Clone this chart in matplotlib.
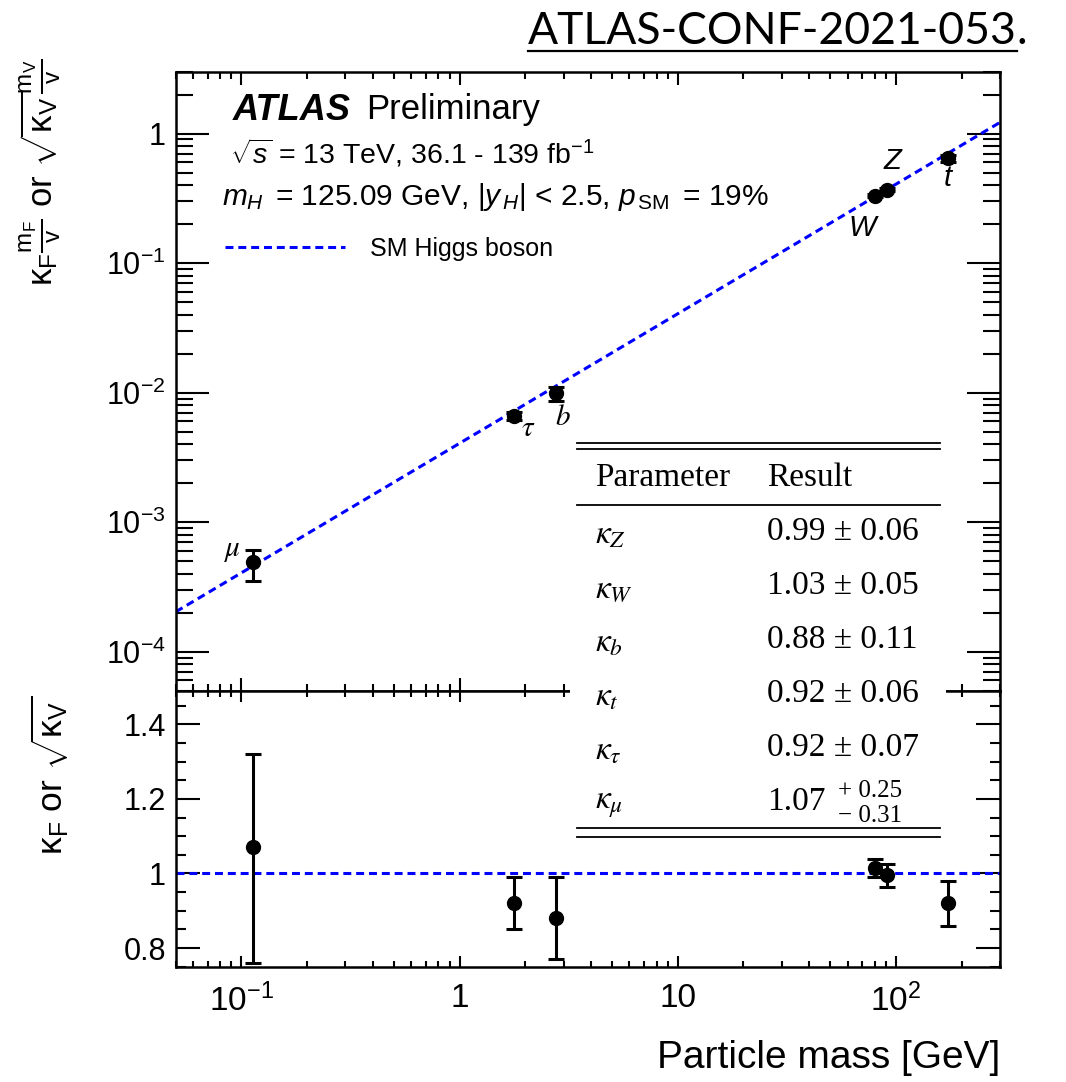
import matplotlib
matplotlib.use("Agg")
import matplotlib.pyplot as plt
import numpy as np
from matplotlib.lines import Line2D
from matplotlib.patches import Rectangle
from matplotlib.ticker import FuncFormatter, LogLocator, MultipleLocator, NullFormatter

plt.rcParams["font.family"] = ["Liberation Sans", "DejaVu Sans"]
plt.rcParams["mathtext.fontset"] = "custom"
plt.rcParams["mathtext.rm"] = "Liberation Sans"
plt.rcParams["mathtext.it"] = "Liberation Sans:italic"
plt.rcParams["mathtext.bf"] = "Liberation Sans:bold"
plt.rcParams["mathtext.sf"] = "Liberation Sans"

# ── Data ──────────────────────────────────────────────────────────────────────

names = ["mu", "tau", "b", "W", "Z", "t"]
tags = [r"$\mu$", r"$\tau$", r"$b$", "W", "Z", "t"]
mass = np.array([0.113, 1.777, 2.76, 80.4, 91.19, 172.5])
kappa = np.array([1.07, 0.92, 0.88, 1.03, 0.99, 0.92])
kappa_up = np.array([0.25, 0.07, 0.11, 0.05, 0.06, 0.06])
kappa_dn = np.array([0.31, 0.07, 0.11, 0.05, 0.06, 0.06])
is_vector = np.array([False, False, False, True, True, False])
vev = 246.22

table_order = ["Z", "W", "b", "t", "tau", "mu"]
table_symbols = [r"$\kappa_Z$", r"$\kappa_W$", r"$\kappa_b$", r"$\kappa_t$",
                 r"$\kappa_\tau$", r"$\kappa_\mu$"]

x_range = (0.05, 300)
y_range_top = (5e-5, 3)
y_range_bot = (0.75, 1.49)

# sqrt(kappa) for vector bosons, kappa for fermions
coup = np.where(is_vector, np.sqrt(kappa), kappa)
coup_up = np.where(is_vector, kappa_up / (2 * np.sqrt(kappa)), kappa_up)
coup_dn = np.where(is_vector, kappa_dn / (2 * np.sqrt(kappa)), kappa_dn)
reduced = coup * mass / vev
reduced_up = coup_up * mass / vev
reduced_dn = coup_dn * mass / vev

# ── Figure ────────────────────────────────────────────────────────────────────

W, H = 1066, 1082
fig = plt.figure(figsize=(W / 100, H / 100), dpi=100)


def fx(px):
    return px / W


def fy(py):
    return 1 - py / H


left, right = 175.7, 1000
ax_top = fig.add_axes([fx(left), fy(690.7), fx(right) - fx(left), fy(71.7) - fy(690.7)])
ax_bot = fig.add_axes([fx(left), fy(966.7), fx(right) - fx(left), fy(690.7) - fy(966.7)])


def pow_label(v, pos):
    e = int(round(np.log10(v)))
    if e == 0:
        return "1"
    if e == 1:
        return "10"
    return r"$10^{%d}$" % e


def style_axes(ax, xlen, ylen):
    for s in ax.spines.values():
        s.set_linewidth(1.8)
    ax.tick_params(which="both", direction="in", top=True, right=True, width=1.5,
                   labelsize=22, pad=7)
    ax.tick_params(axis="x", which="major", length=xlen[0])
    ax.tick_params(axis="x", which="minor", length=xlen[1])
    ax.tick_params(axis="y", which="major", length=ylen[0])
    ax.tick_params(axis="y", which="minor", length=ylen[1])
    ax.set_xscale("log")
    ax.set_xlim(*x_range)
    ax.xaxis.set_major_locator(LogLocator(base=10, numticks=12))
    ax.xaxis.set_minor_locator(LogLocator(base=10, subs=np.arange(2, 10), numticks=12))
    ax.xaxis.set_minor_formatter(NullFormatter())


style_axes(ax_top, (9.5, 5), (24, 12))
style_axes(ax_bot, (8, 4), (17, 7))

# top panel: reduced coupling strength
ax_top.set_yscale("log")
ax_top.set_ylim(*y_range_top)
ax_top.yaxis.set_major_locator(LogLocator(base=10, numticks=12))
ax_top.yaxis.set_minor_locator(LogLocator(base=10, subs=np.arange(2, 10), numticks=12))
ax_top.yaxis.set_major_formatter(FuncFormatter(pow_label))
ax_top.yaxis.set_minor_formatter(NullFormatter())
ax_top.tick_params(axis="x", labelbottom=False)

sm_x = np.array(x_range)
sm_line, = ax_top.plot(sm_x, sm_x / vev, color="blue", lw=2.2, dashes=(2.6, 1.6),
                       label="SM Higgs boson", zorder=2)
ax_top.errorbar(mass, reduced, yerr=[reduced_dn, reduced_up], fmt="o", color="black",
                ms=10, elinewidth=2.2, capsize=6, capthick=2.2, zorder=3)

tag_offsets = {"mu": (-15, 9), "tau": (10, -9), "b": (5, -17),
               "W": (-9, -23), "Z": (4, 21), "t": (0, -14)}
for n, tag, m, r in zip(names, tags, mass, reduced):
    fam = "stix" if tag.startswith("$") else "custom"
    style = "normal" if tag.startswith("$") else "italic"
    ax_top.annotate(tag, (m, r), xytext=tag_offsets[n], textcoords="offset points",
                    ha="center", va="center", fontsize=21, fontstyle=style,
                    math_fontfamily=fam)

ax_top.legend(handles=[sm_line], loc="center left", bbox_to_anchor=(fx(225), fy(249)),
              bbox_transform=fig.transFigure, frameon=False, fontsize=18,
              handlelength=4.8, handletextpad=1.0, borderpad=0, borderaxespad=0)

fig.text(fx(233), fy(110), "ATLAS", fontsize=26, fontweight="bold", fontstyle="italic",
         va="center")
fig.text(fx(366), fy(110), "Preliminary", fontsize=25, va="center")
fig.text(fx(230), fy(153), r"$\sqrt{s}$ = 13 TeV, 36.1 - 139 fb$^{-1}$", fontsize=20.5,
         va="center")
fig.text(fx(222), fy(197),
         r"$m_{H}\,$ = 125.09 GeV, $|y_{\,H}|$ < 2.5, $p_{\,\mathrm{SM}}\,$ = 19%",
         fontsize=21.5, va="center")

# bottom panel: coupling modifiers
ax_bot.set_ylim(*y_range_bot)
ax_bot.yaxis.set_major_locator(MultipleLocator(0.2))
ax_bot.yaxis.set_minor_locator(MultipleLocator(0.05))
ax_bot.yaxis.set_major_formatter(FuncFormatter(lambda v, p: "%g" % round(v, 2)))
ax_bot.xaxis.set_major_formatter(FuncFormatter(pow_label))
ax_bot.tick_params(axis="x", labelsize=24, pad=12)
ax_bot.axhline(1.0, color="blue", lw=2.2, dashes=(2.6, 1.6), zorder=2)
ax_bot.errorbar(mass, coup, yerr=[coup_dn, coup_up], fmt="o", color="black",
                ms=10, elinewidth=2.2, capsize=6, capthick=2.2, zorder=3)

fig.text(fx(1000), fy(1058), "Particle mass [GeV]", fontsize=28, ha="right", va="center")
fig.text(fx(40), fy(172),
         r"$\mathrm{\kappa_F}\frac{\mathrm{m_F}}{\mathrm{v}}$ or "
         r"$\sqrt{\mathrm{\kappa_V}}\frac{\mathrm{m_V}}{\mathrm{v}}$",
         fontsize=25, rotation=90, ha="center", va="center")
fig.text(fx(50), fy(775), r"$\mathrm{\kappa_F}$ or $\sqrt{\mathrm{\kappa_V}}$",
         fontsize=25.5, rotation=90, ha="center", va="center")

# ── Results table ─────────────────────────────────────────────────────────────

fig.patches.append(Rectangle((fx(570), fy(842)), fx(946) - fx(570), fy(436) - fy(842),
                             transform=fig.transFigure, facecolor="white",
                             edgecolor="none", zorder=4))
for py in [442.7, 449.3, 505, 828, 836.7]:
    fig.lines.append(Line2D([fx(576.7), fx(940)], [fy(py), fy(py)], color="black",
                            lw=1.3, transform=fig.transFigure, zorder=5))

serif = dict(family="Liberation Serif", fontsize=24, va="center", zorder=6)
fig.text(fx(595), fy(478), "Parameter", **serif)
fig.text(fx(767), fy(478), "Result", **serif)
for i, (n, sym) in enumerate(zip(table_order, table_symbols)):
    j = names.index(n)
    py = 532 + 54 * i
    fig.text(fx(595), fy(py + 3), sym, math_fontfamily="stix", **serif)
    if kappa_up[j] == kappa_dn[j]:
        fig.text(fx(767), fy(py), "%.2f ± %.2f" % (kappa[j], kappa_up[j]), **serif)
    else:
        fig.text(fx(767), fy(py), "%.2f" % kappa[j], **serif)
        small = dict(serif, fontsize=18)
        fig.text(fx(838), fy(py - 11), "+ %.2f" % kappa_up[j], **small)
        fig.text(fx(838), fy(py + 14), "− %.2f" % kappa_dn[j], **small)

# ── Reference header ──────────────────────────────────────────────────────────

ref = fig.text(fx(528), fy(32), "ATLAS-CONF-2021-053", family="Lato",
               fontsize=32, va="center")
fig.canvas.draw()
bb = ref.get_window_extent().transformed(fig.transFigure.inverted())
fig.text(bb.x1, fy(32), ".", family="Lato", fontsize=32, va="center")
fig.lines.append(Line2D([bb.x0, bb.x1], [fy(51), fy(51)], color="black", lw=1.6,
                        transform=fig.transFigure))

fig.savefig("out.png", dpi=100)
